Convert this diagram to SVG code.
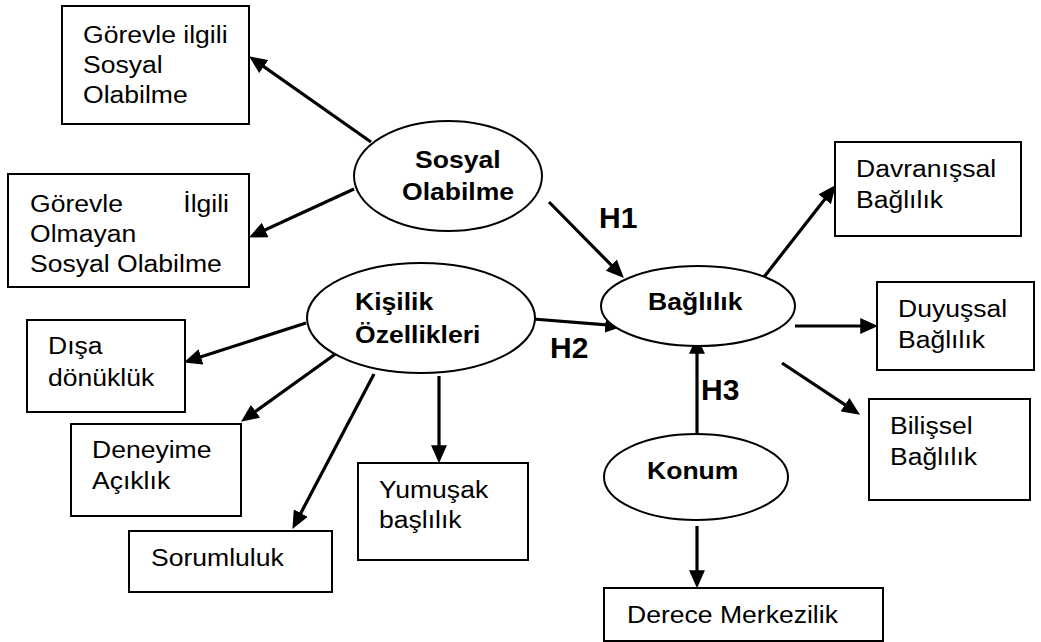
<svg xmlns="http://www.w3.org/2000/svg" width="1041" height="642" viewBox="0 0 1041 642">
  <style>
    .box { fill: #fff; stroke: #000; stroke-width: 2; }
    .oval { fill: #fff; stroke: #000; stroke-width: 2; }
    .t { font-family: "Liberation Sans", Arial, sans-serif; font-size: 23.5px; fill: #000; }
    .b { font-family: "Liberation Sans", Arial, sans-serif; font-size: 23.5px; font-weight: bold; fill: #000; }
    .h { font-family: "Liberation Sans", Arial, sans-serif; font-size: 30px; font-weight: bold; fill: #000; }
    .link { stroke: #000; stroke-width: 3.2; fill: none; marker-end: url(#head); }
  </style>
  <defs>
    <marker id="head" markerUnits="userSpaceOnUse" markerWidth="18" markerHeight="16" viewBox="0 0 17 15" refX="13" refY="7.5" orient="auto">
      <path d="M0,0 L17,7.5 L0,15 z" fill="#000"/>
    </marker>
  </defs>
  <rect width="1041" height="642" fill="#fff"/>

  <!-- connectors -->
  <g id="connectors">
    <line class="link" x1="371" y1="142" x2="252.5" y2="58.7"/>
    <line class="link" x1="354" y1="189" x2="252.7" y2="235.7"/>
    <line class="link" x1="549" y1="202" x2="620.9" y2="274.9"/>
    <line class="link" x1="533" y1="319" x2="619" y2="325.8"/>
    <line class="link" x1="697" y1="434" x2="697" y2="340"/>
    <line class="link" x1="697" y1="526" x2="697" y2="584"/>
    <line class="link" x1="764" y1="277" x2="833.2" y2="188.4"/>
    <line class="link" x1="795" y1="326" x2="874" y2="326"/>
    <line class="link" x1="782" y1="363" x2="856.5" y2="412.3"/>
    <line class="link" x1="306" y1="323" x2="187.9" y2="361.1"/>
    <line class="link" x1="341" y1="350" x2="244.4" y2="419.3"/>
    <line class="link" x1="374" y1="374" x2="294.4" y2="525.3"/>
    <line class="link" x1="439" y1="376" x2="439" y2="459"/>
    <text class="h" x="599" y="228">H1</text>
    <text class="h" x="550" y="358">H2</text>
    <text class="h" x="701" y="400">H3</text>
  </g>

  <!-- latent constructs -->
  <g id="sosyal-olabilme">
    <ellipse class="oval" cx="448" cy="176" rx="94" ry="55"/>
    <text class="b" transform="matrix(1.13 0 0 1 415 168)">Sosyal</text>
    <text class="b" transform="matrix(1.13 0 0 1 402 200)">Olabilme</text>
  </g>
  <g id="kisilik-ozellikleri">
    <ellipse class="oval" cx="421" cy="318" rx="114" ry="55"/>
    <text class="b" transform="matrix(1.13 0 0 1 355 310)">Kişilik</text>
    <text class="b" transform="matrix(1.13 0 0 1 355 343)">Özellikleri</text>
  </g>
  <g id="baglilik">
    <ellipse class="oval" cx="698" cy="306" rx="97" ry="40"/>
    <text class="b" transform="matrix(1.13 0 0 1 648 310)">Bağlılık</text>
  </g>
  <g id="konum">
    <ellipse class="oval" cx="696" cy="477" rx="92" ry="43"/>
    <text class="b" transform="matrix(1.13 0 0 1 647 479)">Konum</text>
  </g>

  <!-- indicator boxes -->
  <g id="gorevle-ilgili">
    <rect class="box" x="62" y="6" width="187" height="118"/>
    <text class="t" transform="matrix(1.13 0 0 1 83 43)">Görevle ilgili</text>
    <text class="t" transform="matrix(1.13 0 0 1 83 73)">Sosyal</text>
    <text class="t" transform="matrix(1.13 0 0 1 83 103)">Olabilme</text>
  </g>
  <g id="gorevle-ilgili-olmayan">
    <rect class="box" x="8" y="174" width="241" height="113"/>
    <text class="t" transform="matrix(1.13 0 0 1 30 212)">Görevle</text>
    <text class="t" text-anchor="end" transform="matrix(1.13 0 0 1 229 212)">İlgili</text>
    <text class="t" transform="matrix(1.13 0 0 1 30 242)">Olmayan</text>
    <text class="t" transform="matrix(1.13 0 0 1 30 272)">Sosyal Olabilme</text>
  </g>
  <g id="disa-donukluk">
    <rect class="box" x="27" y="320" width="158" height="92"/>
    <text class="t" transform="matrix(1.13 0 0 1 48 354)">Dışa</text>
    <text class="t" transform="matrix(1.13 0 0 1 48 386)">dönüklük</text>
  </g>
  <g id="deneyime-aciklik">
    <rect class="box" x="71" y="424" width="170" height="92"/>
    <text class="t" transform="matrix(1.13 0 0 1 92 458)">Deneyime</text>
    <text class="t" transform="matrix(1.13 0 0 1 92 489)">Açıklık</text>
  </g>
  <g id="sorumluluk">
    <rect class="box" x="129" y="531" width="203" height="61"/>
    <text class="t" transform="matrix(1.13 0 0 1 151 566)">Sorumluluk</text>
  </g>
  <g id="yumusak-baslilik">
    <rect class="box" x="358" y="463" width="170" height="97"/>
    <text class="t" transform="matrix(1.13 0 0 1 379 498)">Yumuşak</text>
    <text class="t" transform="matrix(1.13 0 0 1 379 528)">başlılık</text>
  </g>
  <g id="davranissal-baglilik">
    <rect class="box" x="835" y="142" width="186" height="94"/>
    <text class="t" transform="matrix(1.13 0 0 1 856 177)">Davranışsal</text>
    <text class="t" transform="matrix(1.13 0 0 1 856 208)">Bağlılık</text>
  </g>
  <g id="duyussal-baglilik">
    <rect class="box" x="877" y="282" width="157" height="88"/>
    <text class="t" transform="matrix(1.13 0 0 1 898 317)">Duyuşsal</text>
    <text class="t" transform="matrix(1.13 0 0 1 898 348)">Bağlılık</text>
  </g>
  <g id="bilissel-baglilik">
    <rect class="box" x="869" y="399" width="161" height="101"/>
    <text class="t" transform="matrix(1.13 0 0 1 890 434)">Bilişsel</text>
    <text class="t" transform="matrix(1.13 0 0 1 890 465)">Bağlılık</text>
  </g>
  <g id="derece-merkezilik">
    <rect class="box" x="604" y="588" width="279" height="53"/>
    <text class="t" transform="matrix(1.13 0 0 1 627 623)">Derece Merkezilik</text>
  </g>
</svg>
